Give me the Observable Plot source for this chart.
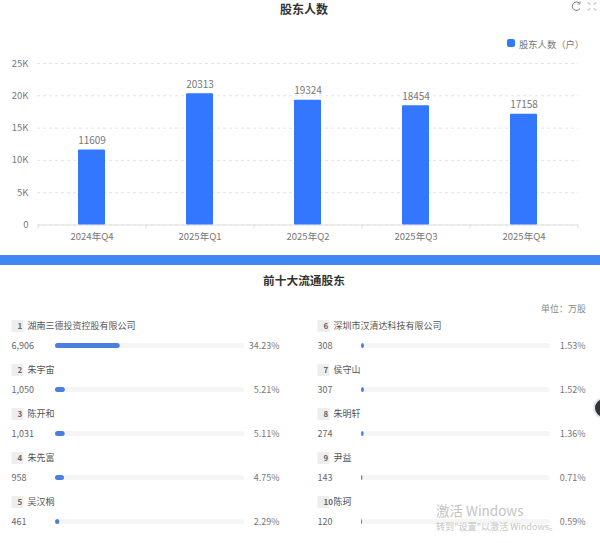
<!DOCTYPE html>
<html><head><meta charset="utf-8">
<script src="https://cdn.jsdelivr.net/npm/d3@7"></script>
<script src="https://cdn.jsdelivr.net/npm/@observablehq/plot@0.6"></script>
<style>
html,body{margin:0;padding:0;background:#fff;}
#page{position:relative;width:600px;height:543px;overflow:hidden;font-family:"Noto Sans CJK SC","Noto Sans",sans-serif;}
#page svg{position:absolute;font-family:"Noto Sans CJK SC","Noto Sans",sans-serif;}
.t{position:absolute;white-space:nowrap;}
.title{font-size:12px;font-weight:700;color:#333;line-height:16px;transform:translateX(-50%);}
</style></head><body><div id="page"></div>
<script>
const quarters = ["2024年Q4","2025年Q1","2025年Q2","2025年Q3","2025年Q4"];
const holders = [11609,20313,19324,18454,17158];
const yTicks = [0,5000,10000,15000,20000,25000];
const ranks = [1,2,3,4,5,6,7,8,9,10];
const names = ["湖南三德投资控股有限公司","朱宇宙","陈开和","朱先富","吴汉桐","深圳市汉清达科技有限公司","侯守山","朱明轩","尹益","陈珂"];
const shares = ["6,906","1,050","1,031","958","461","308","307","274","143","120"];
const percents = [34.23,5.21,5.11,4.75,2.29,1.53,1.52,1.36,0.71,0.59];

const page = document.getElementById("page");
const add = (el,left,y)=>{el.style.left=left+"px";el.style.top=y+"px";page.append(el);};
const text = (s,left,y,css,cls="t")=>{const d=document.createElement("div");d.className=cls;d.textContent=s;d.style.cssText=css;add(d,left,y);return d;};

const barRows = quarters.map((q,i)=>({q,v:holders[i]}));
const chart = Plot.plot({
  width:600,height:255,marginLeft:37,marginRight:22,marginTop:63,marginBottom:30.5,
  style:{background:"transparent",fontSize:"10px",color:"#777"},
  x:{domain:quarters,paddingInner:0.75,paddingOuter:0.375,label:null},
  y:{domain:[0,25000],label:null},
  marks:[
    Plot.gridY(yTicks,{stroke:"#e3e3e3",strokeOpacity:1,strokeDasharray:"3,3"}),
    Plot.ruleY([0],{stroke:"#dfdfdf"}),
    Plot.ruleX(quarters,{x:d=>d,y1:0,y2:-650,dx:-54,stroke:"#dfdfdf"}),
    Plot.ruleX([quarters[4]],{x:d=>d,y1:0,y2:-650,dx:54,stroke:"#dfdfdf"}),
    Plot.barY(barRows,{x:"q",y:"v",fill:"#3377ff",rx:1}),
    Plot.text(barRows,{x:"q",y:"v",text:d=>String(d.v),dy:-9,fill:"#777",fontSize:10}),
    Plot.axisY({ticks:yTicks,tickSize:0,tickPadding:9,tickFormat:d=>d===0?"0":d/1000+"K",anchor:"left",fill:"#777",fontSize:9.5}),
    Plot.axisX({tickSize:0,tickPadding:8,fill:"#777",fontSize:9.5,anchor:"bottom"})
  ]
});
add(chart,0,0);

const listPlot = (idx,left)=>{
  const rows = idx.map(i=>({rank:ranks[i],name:names[i],share:shares[i],pct:percents[i]}));
  const p = Plot.plot({
    width:300,height:278,marginLeft:55,marginRight:56,marginTop:77.5,marginBottom:18,
    style:{background:"transparent",fontSize:"10px"},
    axis:null,
    x:{domain:[0,100]},
    y:{domain:rows.map(d=>d.rank),paddingInner:0.887,paddingOuter:0,axis:null},
    marks:[
      Plot.barX(rows,{y:"rank",x1:()=>0,x2:()=>100,fill:"#f5f5f6",rx:2.5}),
      Plot.barX(rows,{y:"rank",x1:()=>0,x2:"pct",fill:"#4a7ee0",rx:2.5}),
      Plot.dot(rows,{y:"rank",frameAnchor:"left",dx:-38,dy:-20,symbol:"square",r:6.8,fill:"#eeeeee"}),
      Plot.text(rows,{y:"rank",frameAnchor:"left",dx:-38,dy:-20,text:d=>String(d.rank),fill:"#666",fontSize:8,fontWeight:600}),
      Plot.text(rows,{y:"rank",frameAnchor:"left",dx:-28,dy:-20,text:"name",textAnchor:"start",fill:"#555",fontSize:9}),
      Plot.text(rows,{y:"rank",frameAnchor:"left",dx:-44,text:"share",textAnchor:"start",fill:"#666",fontSize:9}),
      Plot.text(rows,{y:"rank",frameAnchor:"right",dx:35,text:d=>d.pct.toFixed(2)+"%",textAnchor:"end",fill:"#777",fontSize:9})
    ]
  });
  add(p,left,265);
};
listPlot([0,1,2,3,4],0);
listPlot([5,6,7,8,9],306);

text("股东人数",304,1,"","t title");
text("前十大流通股东",304,272,"font-size:11.7px","t title");

const band=document.createElement("div");
band.style.cssText="position:absolute;width:600px;height:10px;background:#4285f4";
add(band,0,255);

const sw=document.createElement("div");
sw.style.cssText="position:absolute;width:8px;height:8px;border-radius:2px;background:#3377ff";
add(sw,507,39);
text("股东人数（户）",519,37,"font-size:9.3px;color:#777;line-height:14px");
text("单位：万股",541,303,"font-size:9px;color:#888;line-height:12px");
text("激活 Windows",436,503,"font-size:13.5px;color:#c4c4c4;line-height:15px");
text("转到\"设置\"以激活 Windows。",436,520,"font-size:9.1px;color:#c4c4c4;line-height:12px");

const icons=document.createElementNS("http://www.w3.org/2000/svg","svg");
icons.setAttribute("width","30");icons.setAttribute("height","14");
icons.innerHTML='<path d="M9.5 3.2A4.2 4.2 0 1 0 10 8.5" fill="none" stroke="#777" stroke-width="1"/><path d="M10 1.5V4H7.5" fill="none" stroke="#777" stroke-width="0.8"/>'
 +'<g fill="none" stroke="#888" stroke-width="1"><path d="M18 2.5l2 2M26 2.5l-2 2M18 10.5l2-2M26 10.5l-2-2"/></g>';
add(icons,570,0);

const av=document.createElement("div");
av.style.cssText="position:absolute;width:22px;height:22px;border-radius:50%;background:#333;border:2px solid #dfe6f2;box-sizing:border-box";
add(av,593,397);
</script></body></html>
